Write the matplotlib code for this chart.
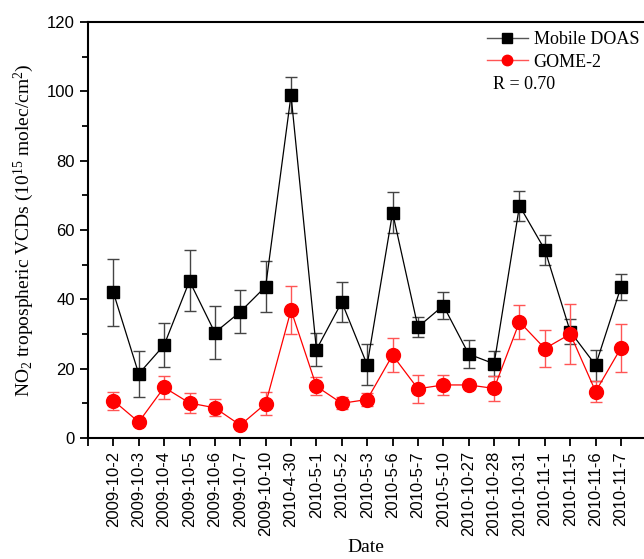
import numpy as np
import matplotlib
matplotlib.use("Agg")
import matplotlib.pyplot as plt
from matplotlib.lines import Line2D

plt.rcParams['mathtext.fontset'] = 'custom'
plt.rcParams['mathtext.rm'] = 'Liberation Serif'
plt.rcParams['mathtext.it'] = 'Liberation Serif:italic'

# Dates of measurement
dates = ['2009-10-2', '2009-10-3', '2009-10-4', '2009-10-5', '2009-10-6', '2009-10-7',
         '2009-10-10', '2010-4-30', '2010-5-1', '2010-5-2', '2010-5-3', '2010-5-6',
         '2010-5-7', '2010-5-10', '2010-10-27', '2010-10-28', '2010-10-31', '2010-11-1',
         '2010-11-5', '2010-11-6', '2010-11-7']

# Mobile DOAS NO2 VCDs and errors
doas = [42.0, 18.5, 26.8, 45.3, 30.4, 36.4, 43.7, 98.9, 25.5, 39.2, 21.1, 65.0,
        32.0, 38.2, 24.2, 21.4, 67.0, 54.3, 30.7, 21.0, 43.6]
doas_err = [9.6, 6.7, 6.4, 8.8, 7.6, 6.2, 7.3, 5.2, 4.8, 5.8, 5.9, 6.0,
            3.0, 4.0, 4.0, 3.6, 4.4, 4.4, 3.5, 4.5, 3.7]

# GOME-2 NO2 VCDs and errors
gome = [10.8, 4.6, 14.6, 10.1, 8.7, 3.7, 9.9, 36.9, 14.9, 10.0, 11.1, 23.9,
        14.2, 15.3, 15.3, 14.3, 33.5, 25.8, 30.0, 13.4, 26.0]
gome_err = [2.6, 0.4, 3.3, 2.8, 2.5, 0.3, 3.3, 7.0, 2.6, 1.7, 2.0, 4.9,
            4.0, 3.0, 0.4, 3.5, 5.0, 5.3, 8.6, 3.1, 7.0]

R_value = 0.70

x = np.arange(len(dates))

fig = plt.figure(figsize=(6.44, 5.59), dpi=100)
ax = fig.add_axes([0.1366, 0.2165, 0.862, 0.744])

ax.errorbar(x, doas, yerr=doas_err, color='black', ecolor='#444444', lw=0.9, elinewidth=1.0,
            capsize=4, capthick=1.0, marker='s', markersize=8.5, zorder=3)
ax.errorbar(x, gome, yerr=gome_err, color='#ff0000', ecolor='#ff5555', lw=0.9, elinewidth=1.0,
            capsize=4, capthick=1.0, marker='o', markersize=10, zorder=4)

ax.set_xlim(-1, 20.87)
ax.set_ylim(0, 120)
ax.set_xticks(np.arange(-1, len(dates)))
ax.set_xticklabels([''] + dates, rotation=90, fontsize=12, family='Liberation Sans')
ax.set_yticks(np.arange(0, 121, 20))
ax.set_yticks(np.arange(10, 120, 20), minor=True)
for lab in ax.get_yticklabels():
    lab.set_family('Liberation Sans')
    lab.set_fontsize(12)
ax.tick_params(axis='both', which='major', direction='out', length=6, width=1.3)
ax.tick_params(axis='y', which='minor', direction='out', length=4, width=1.3)

ax.spines['right'].set_visible(False)
for s in ['left', 'bottom', 'top']:
    ax.spines[s].set_linewidth(1.5)

ax.set_ylabel(r'$\mathregular{NO_2}$ tropospheric VCDs ($\mathregular{10^{15}}$ molec/cm$\mathregular{^2}$)',
              family='Liberation Serif', fontsize=14, labelpad=8)
ax.set_xlabel('Date', family='Liberation Serif', fontsize=14, labelpad=2)

# legend handles without error bars
handles = [Line2D([], [], color='#555555', lw=1.0, marker='s', markersize=6.5,
                  markerfacecolor='black', markeredgecolor='black'),
           Line2D([], [], color='#ff5555', lw=1.0, marker='o', markersize=7.5,
                  markerfacecolor='#ff0000', markeredgecolor='#ff0000')]
ax.legend(handles, ['Mobile DOAS', 'GOME-2'], loc='upper left', bbox_to_anchor=(0.705, 0.995),
          frameon=False, prop={'family': 'Liberation Serif', 'size': 13}, handlelength=2.3,
          handletextpad=0.3, labelspacing=0.3, borderaxespad=0)
ax.text(0.729, 0.851, 'R = {:.2f}'.format(R_value), transform=ax.transAxes,
        family='Liberation Serif', fontsize=13, va='center')

fig.savefig('out.png', dpi=100)
